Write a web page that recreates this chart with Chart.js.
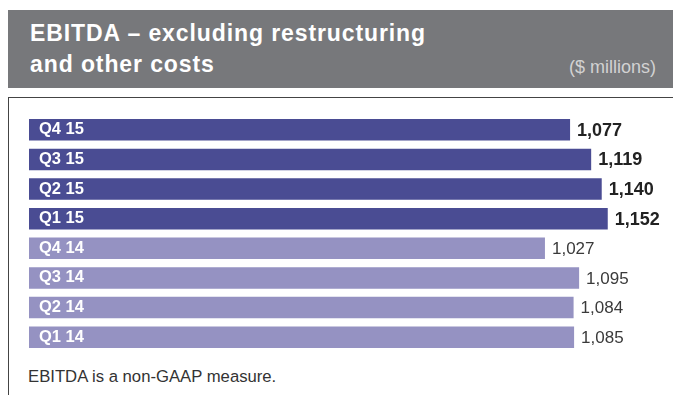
<!DOCTYPE html>
<html>
<head>
<meta charset="utf-8">
<script src="https://cdn.jsdelivr.net/npm/chart.js@4"></script>
<style>
  html, body { margin:0; padding:0; background:#fff; width:673px; height:395px; overflow:hidden; font-family:"Liberation Sans", Arial, sans-serif; }
  #hdr { position:absolute; left:8px; top:10px; width:665px; height:78px; background:#77787b; }
  #t1, #t2 { position:absolute; left:22px; color:#fff; font-weight:bold; font-size:23px; line-height:23px; letter-spacing:0.9px; white-space:nowrap; }
  #t1 { top:11.5px; }
  #t2 { top:42.5px; }
  #unit { position:absolute; right:17px; top:48px; color:#d2d2d2; font-size:18px; line-height:18px; white-space:nowrap; }
  #box { position:absolute; left:8px; top:97px; width:665px; height:300px; border-left:1px solid #444; border-top:1px solid #444; }
  #note { position:absolute; left:28px; top:368px; color:#333; font-size:16.7px; line-height:17px; white-space:nowrap; }
  #c { position:absolute; left:0; top:0; }
</style>
</head>
<body>
<div id="hdr">
  <div id="t1">EBITDA – excluding restructuring</div>
  <div id="t2">and other costs</div>
  <div id="unit">($ millions)</div>
</div>
<div id="box"></div>
<div id="note">EBITDA is a non-GAAP measure.</div>
<canvas id="c" width="673" height="395"></canvas>
<script>
const categories = ["Q4 15", "Q3 15", "Q2 15", "Q1 15", "Q4 14", "Q3 14", "Q2 14", "Q1 14"];
const values = [1077, 1119, 1140, 1152, 1027, 1095, 1084, 1085];
const valueLabels = ["1,077", "1,119", "1,140", "1,152", "1,027", "1,095", "1,084", "1,085"];
const highlighted = [true, true, true, true, false, false, false, false];

const DARK = "#4a4c93";
const LIGHT = "#9592c2";

const labelPlugin = {
  id: "barLabels",
  afterDatasetsDraw(chart) {
    const ctx = chart.ctx;
    const meta = chart.getDatasetMeta(0);
    const xs = chart.scales.x;
    const ys = chart.scales.y;
    ctx.save();
    ctx.textBaseline = "middle";
    meta.data.forEach((bar, i) => {
      const yc = ys.getPixelForValue(i);
      ctx.fillStyle = "#ffffff";
      ctx.font = "bold 16.5px 'Liberation Sans', Arial, sans-serif";
      ctx.textAlign = "left";
      ctx.fillText(categories[i], xs.getPixelForValue(0) + 10, yc);
      const xEnd = xs.getPixelForValue(values[i]);
      if (highlighted[i]) {
        ctx.fillStyle = "#222222";
        ctx.font = "bold 18px 'Liberation Sans', Arial, sans-serif";
      } else {
        ctx.fillStyle = "#3a3a3a";
        ctx.font = "17px 'Liberation Sans', Arial, sans-serif";
      }
      ctx.fillText(valueLabels[i], xEnd + 7, yc + 1);
    });
    ctx.restore();
  }
};

new Chart(document.getElementById("c"), {
  type: "bar",
  data: {
    labels: categories,
    datasets: [{
      data: values,
      backgroundColor: highlighted.map(h => h ? DARK : LIGHT),
      borderWidth: 0,
      categoryPercentage: 1,
      barPercentage: 0.727
    }]
  },
  options: {
    indexAxis: "y",
    responsive: false,
    animation: false,
    layout: { padding: { left: 29, top: 115, right: 13, bottom: 43 } },
    plugins: { legend: { display: false }, tooltip: { enabled: false } },
    scales: {
      x: { display: false, min: 0, max: 1256 },
      y: { display: false }
    }
  },
  plugins: [labelPlugin]
});
</script>
</body>
</html>
